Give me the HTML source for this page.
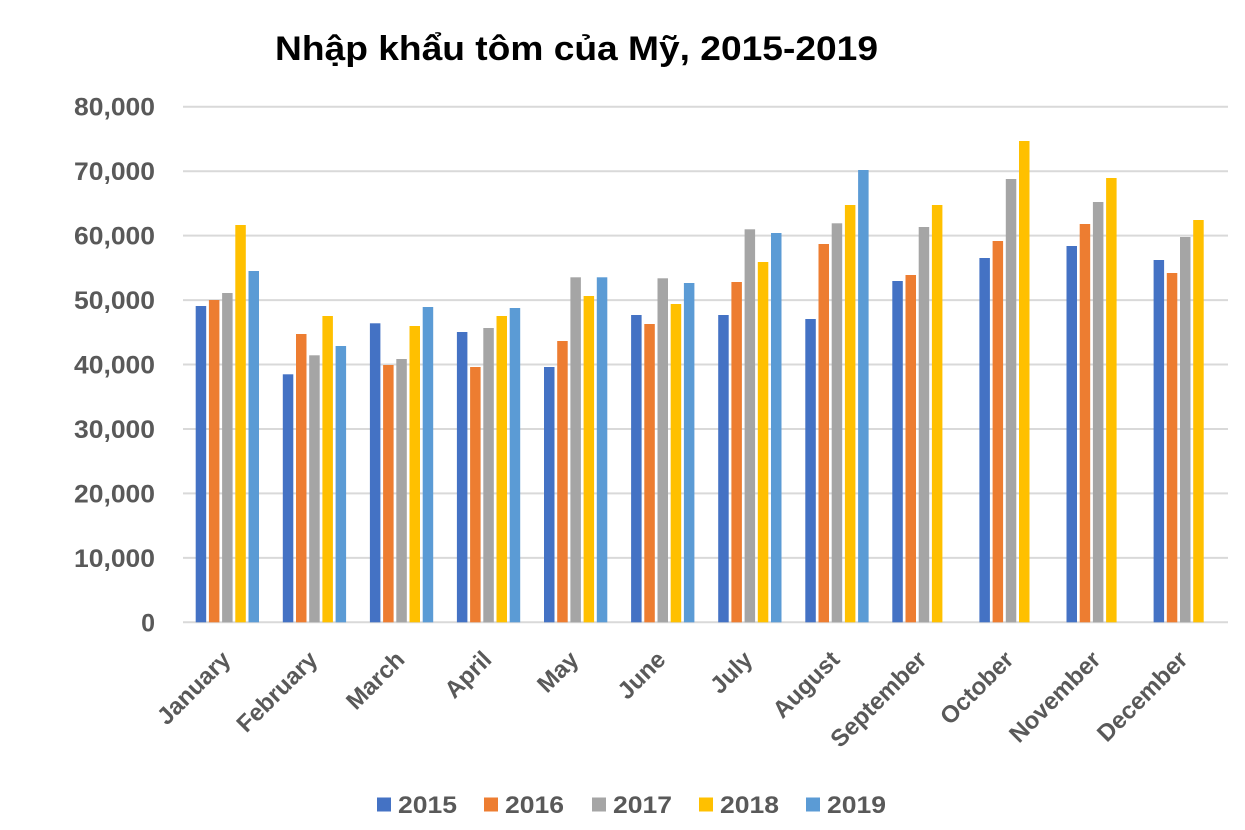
<!DOCTYPE html>
<html>
<head>
<meta charset="utf-8">
<style>
html,body{margin:0;padding:0;background:#fff;}
svg{display:block;}
text{font-family:"Liberation Sans",Arial,sans-serif;font-weight:bold;}
.yl{fill:#595959;font-size:25px;}
.xl{fill:#595959;font-size:24px;}
.lg{fill:#595959;font-size:24px;}
</style>
</head>
<body>
<svg width="1245" height="830" viewBox="0 0 1245 830" xmlns="http://www.w3.org/2000/svg">
<rect width="1245" height="830" fill="#fff"/>
<text x="275" y="60" font-size="34" fill="#000" textLength="603" lengthAdjust="spacingAndGlyphs">Nhập khẩu tôm của Mỹ, 2015-2019</text>

<g stroke="#d9d9d9" stroke-width="2">
<line x1="183" x2="1228" y1="106.7" y2="106.7"/>
<line x1="183" x2="1228" y1="171.2" y2="171.2"/>
<line x1="183" x2="1228" y1="235.6" y2="235.6"/>
<line x1="183" x2="1228" y1="300.1" y2="300.1"/>
<line x1="183" x2="1228" y1="364.5" y2="364.5"/>
<line x1="183" x2="1228" y1="429" y2="429"/>
<line x1="183" x2="1228" y1="493.4" y2="493.4"/>
<line x1="183" x2="1228" y1="557.9" y2="557.9"/>
<line x1="183" x2="1228" y1="622.3" y2="622.3"/>
</g>

<g class="yl" text-anchor="end">
<text x="155" y="115.7" textLength="81" lengthAdjust="spacingAndGlyphs">80,000</text>
<text x="155" y="180.2" textLength="81" lengthAdjust="spacingAndGlyphs">70,000</text>
<text x="155" y="244.6" textLength="81" lengthAdjust="spacingAndGlyphs">60,000</text>
<text x="155" y="309.1" textLength="81" lengthAdjust="spacingAndGlyphs">50,000</text>
<text x="155" y="373.5" textLength="81" lengthAdjust="spacingAndGlyphs">40,000</text>
<text x="155" y="438" textLength="81" lengthAdjust="spacingAndGlyphs">30,000</text>
<text x="155" y="502.4" textLength="81" lengthAdjust="spacingAndGlyphs">20,000</text>
<text x="155" y="566.9" textLength="81" lengthAdjust="spacingAndGlyphs">10,000</text>
<text x="155" y="631.3">0</text>
</g>

<!-- 2015 -->
<g fill="#4472C4">
<rect x="195.7" y="306" width="10.5" height="316.3"/>
<rect x="282.8" y="374.3" width="10.5" height="248"/>
<rect x="369.9" y="323.3" width="10.5" height="299"/>
<rect x="456.9" y="332" width="10.5" height="290.3"/>
<rect x="544.0" y="367" width="10.5" height="255.3"/>
<rect x="631.1" y="315" width="10.5" height="307.3"/>
<rect x="718.2" y="315" width="10.5" height="307.3"/>
<rect x="805.3" y="319" width="10.5" height="303.3"/>
<rect x="892.3" y="281" width="10.5" height="341.3"/>
<rect x="979.4" y="258" width="10.5" height="364.3"/>
<rect x="1066.5" y="246" width="10.5" height="376.3"/>
<rect x="1153.6" y="260" width="10.5" height="362.3"/>
</g>
<!-- 2016 -->
<g fill="#ED7D31">
<rect x="208.9" y="300" width="10.5" height="322.3"/>
<rect x="296.0" y="334" width="10.5" height="288.3"/>
<rect x="383.1" y="365" width="10.5" height="257.3"/>
<rect x="470.1" y="367" width="10.5" height="255.3"/>
<rect x="557.2" y="341" width="10.5" height="281.3"/>
<rect x="644.3" y="324" width="10.5" height="298.3"/>
<rect x="731.4" y="282" width="10.5" height="340.3"/>
<rect x="818.5" y="244" width="10.5" height="378.3"/>
<rect x="905.5" y="275" width="10.5" height="347.3"/>
<rect x="992.6" y="241" width="10.5" height="381.3"/>
<rect x="1079.7" y="224" width="10.5" height="398.3"/>
<rect x="1166.8" y="273" width="10.5" height="349.3"/>
</g>
<!-- 2017 -->
<g fill="#A5A5A5">
<rect x="222.1" y="293" width="10.5" height="329.3"/>
<rect x="309.2" y="355.3" width="10.5" height="267"/>
<rect x="396.3" y="359" width="10.5" height="263.3"/>
<rect x="483.3" y="328" width="10.5" height="294.3"/>
<rect x="570.4" y="277.3" width="10.5" height="345"/>
<rect x="657.5" y="278.3" width="10.5" height="344"/>
<rect x="744.6" y="229.3" width="10.5" height="393"/>
<rect x="831.7" y="223.3" width="10.5" height="399"/>
<rect x="918.7" y="227" width="10.5" height="395.3"/>
<rect x="1005.8" y="179" width="10.5" height="443.3"/>
<rect x="1092.9" y="202" width="10.5" height="420.3"/>
<rect x="1180.0" y="237" width="10.5" height="385.3"/>
</g>
<!-- 2018 -->
<g fill="#FFC000">
<rect x="235.3" y="225" width="10.5" height="397.3"/>
<rect x="322.4" y="316" width="10.5" height="306.3"/>
<rect x="409.5" y="326" width="10.5" height="296.3"/>
<rect x="496.5" y="316" width="10.5" height="306.3"/>
<rect x="583.6" y="296" width="10.5" height="326.3"/>
<rect x="670.7" y="304" width="10.5" height="318.3"/>
<rect x="757.8" y="262" width="10.5" height="360.3"/>
<rect x="844.9" y="205" width="10.5" height="417.3"/>
<rect x="931.9" y="205" width="10.5" height="417.3"/>
<rect x="1019.0" y="141" width="10.5" height="481.3"/>
<rect x="1106.1" y="178" width="10.5" height="444.3"/>
<rect x="1193.2" y="220" width="10.5" height="402.3"/>
</g>
<!-- 2019 -->
<g fill="#5B9BD5">
<rect x="248.5" y="271" width="10.5" height="351.3"/>
<rect x="335.6" y="346" width="10.5" height="276.3"/>
<rect x="422.7" y="307" width="10.5" height="315.3"/>
<rect x="509.7" y="308" width="10.5" height="314.3"/>
<rect x="596.8" y="277.3" width="10.5" height="345"/>
<rect x="683.9" y="283" width="10.5" height="339.3"/>
<rect x="771.0" y="233" width="10.5" height="389.3"/>
<rect x="858.1" y="170" width="10.5" height="452.3"/>
</g>

<g class="xl" text-anchor="end">
<text transform="translate(232,661) rotate(-45)">January</text>
<text transform="translate(319,661) rotate(-45)">February</text>
<text transform="translate(406,661) rotate(-45)">March</text>
<text transform="translate(493,661) rotate(-45)">April</text>
<text transform="translate(580,661) rotate(-45)">May</text>
<text transform="translate(667,661) rotate(-45)">June</text>
<text transform="translate(754,661) rotate(-45)">July</text>
<text transform="translate(841,661) rotate(-45)">August</text>
<text transform="translate(928,661) rotate(-45)">September</text>
<text transform="translate(1015,661) rotate(-45)">October</text>
<text transform="translate(1102,661) rotate(-45)">November</text>
<text transform="translate(1189,661) rotate(-45)">December</text>
</g>

<rect x="377" y="797.5" width="14" height="14" fill="#4472C4"/>
<rect x="484" y="797.5" width="14" height="14" fill="#ED7D31"/>
<rect x="592" y="797.5" width="14" height="14" fill="#A5A5A5"/>
<rect x="699" y="797.5" width="14" height="14" fill="#FFC000"/>
<rect x="806" y="797.5" width="14" height="14" fill="#5B9BD5"/>
<g class="lg">
<text x="398" y="813" textLength="59" lengthAdjust="spacingAndGlyphs">2015</text>
<text x="505" y="813" textLength="59" lengthAdjust="spacingAndGlyphs">2016</text>
<text x="613" y="813" textLength="59" lengthAdjust="spacingAndGlyphs">2017</text>
<text x="720" y="813" textLength="59" lengthAdjust="spacingAndGlyphs">2018</text>
<text x="827" y="813" textLength="59" lengthAdjust="spacingAndGlyphs">2019</text>
</g>
</svg>
</body>
</html>
